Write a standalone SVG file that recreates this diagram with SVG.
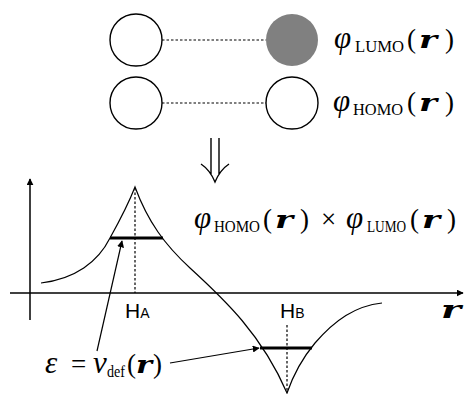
<svg xmlns="http://www.w3.org/2000/svg" width="464" height="394" viewBox="0 0 464 394">
<defs>
<style>
.ln{fill:none;stroke:#000;stroke-width:1.2}
.ax{fill:none;stroke:#000;stroke-width:1.5}
.dash{fill:none;stroke:#000;stroke-width:1.2;stroke-dasharray:2.5,2}
.bar{stroke:#000;stroke-width:3}
.orb{fill:#fff;stroke:#000;stroke-width:1.4}
.m{font-family:"Liberation Serif","DejaVu Serif",serif;font-size:27px;fill:#000}
.it{font-style:italic;font-size:31px}
.sub{font-size:17px}
.bi{font-family:"DejaVu Serif","Liberation Serif",serif;font-weight:bold;font-style:italic;font-size:24px}
.s{font-family:"Liberation Sans",Arial,sans-serif;font-size:21px;fill:#000}
.ss{font-size:14px}
</style>
<marker id="ah" viewBox="0 0 10 10" refX="9" refY="5" markerWidth="7" markerHeight="7" orient="auto" markerUnits="userSpaceOnUse"><path d="M0,0 L10,5 L0,10 z" fill="#000"/></marker>
</defs>
<g id="orbitals">
<g id="a-lumo"><circle class="orb" cx="136" cy="40" r="26"/></g>
<g id="b-lumo"><circle cx="292" cy="40" r="26" fill="#808080"/></g>
<g id="a-homo"><circle class="orb" cx="136" cy="103" r="26"/></g>
<g id="b-homo"><circle class="orb" cx="292" cy="103" r="26"/></g>
</g>
<g id="connectors">
<line class="dash" x1="162" y1="40" x2="266" y2="40"/>
<line class="dash" x1="162" y1="103" x2="266" y2="103"/>
<path d="M211,138 V174 M219,138 V174 M201,164 Q210,170 215,182 Q220,170 229,164" fill="none" stroke="#000" stroke-width="1.4"/>
<line class="ax" x1="30" y1="320" x2="30" y2="179" marker-end="url(#ah)"/>
<line class="ax" x1="10" y1="293" x2="463" y2="293" marker-end="url(#ah)"/>
<line class="dash" x1="135" y1="188" x2="135" y2="293"/>
<line class="dash" x1="287" y1="325" x2="287" y2="393"/>
<line class="ln" x1="97" y1="351" x2="122" y2="241" marker-end="url(#ah)"/>
<line class="ln" x1="170" y1="363" x2="259" y2="348" marker-end="url(#ah)"/>
</g>
<g id="curve">
<path class="ln" d="M41,283 C75,279 98,262 110,238 C120,220 128,205 135,187 C148,222 165,245 190,268 C225,300 262,335 287,393 C295,370 305,355 315,343 C335,320 355,306 382,303"/>
<line class="bar" x1="110" y1="238" x2="163" y2="238"/>
<line class="bar" x1="260" y1="348" x2="312" y2="348"/>
</g>
<g id="label-lumo">
<text class="m"><tspan class="it" x="334" y="48">φ</tspan><tspan class="sub" x="355" y="52" textLength="49" lengthAdjust="spacingAndGlyphs">LUMO</tspan><tspan x="407" y="48">(</tspan><tspan class="bi" x="419" y="48" textLength="18" lengthAdjust="spacingAndGlyphs">r</tspan><tspan x="445" y="48">)</tspan></text>
</g>
<g id="label-homo">
<text class="m"><tspan class="it" x="333" y="111">φ</tspan><tspan class="sub" x="353" y="115" textLength="50" lengthAdjust="spacingAndGlyphs">HOMO</tspan><tspan x="407" y="111">(</tspan><tspan class="bi" x="419" y="111" textLength="18" lengthAdjust="spacingAndGlyphs">r</tspan><tspan x="445" y="111">)</tspan></text>
</g>
<g id="label-product">
<text class="m"><tspan class="it" x="194" y="228">φ</tspan><tspan class="sub" x="214" y="232" textLength="46" lengthAdjust="spacingAndGlyphs">HOMO</tspan><tspan x="263" y="228">(</tspan><tspan class="bi" x="275" y="228" textLength="18" lengthAdjust="spacingAndGlyphs">r</tspan><tspan x="300" y="228">)</tspan><tspan x="321" y="228">×</tspan><tspan class="it" x="346" y="228">φ</tspan><tspan class="sub" x="367" y="232" textLength="39" lengthAdjust="spacingAndGlyphs">LUMO</tspan><tspan x="410" y="228">(</tspan><tspan class="bi" x="422" y="228" textLength="18" lengthAdjust="spacingAndGlyphs">r</tspan><tspan x="447" y="228">)</tspan></text>
</g>
<g id="label-eps">
<text class="m"><tspan class="it" x="45" y="373">ε</tspan><tspan x="71" y="373">=</tspan><tspan class="it" x="93" y="373" font-size="27">v</tspan><tspan class="sub" x="107" y="377" textLength="18" lengthAdjust="spacingAndGlyphs">def</tspan><tspan x="127" y="373">(</tspan><tspan class="bi" x="136" y="373" textLength="16" lengthAdjust="spacingAndGlyphs">r</tspan><tspan x="153" y="373">)</tspan></text>
</g>
<g id="label-ha"><text class="s" x="125" y="318">H<tspan class="ss">A</tspan></text></g>
<g id="label-hb"><text class="s" x="280" y="318">H<tspan class="ss">B</tspan></text></g>
<g id="label-r"><text class="m bi" x="441" y="318" textLength="20" lengthAdjust="spacingAndGlyphs">r</text></g>
</svg>
